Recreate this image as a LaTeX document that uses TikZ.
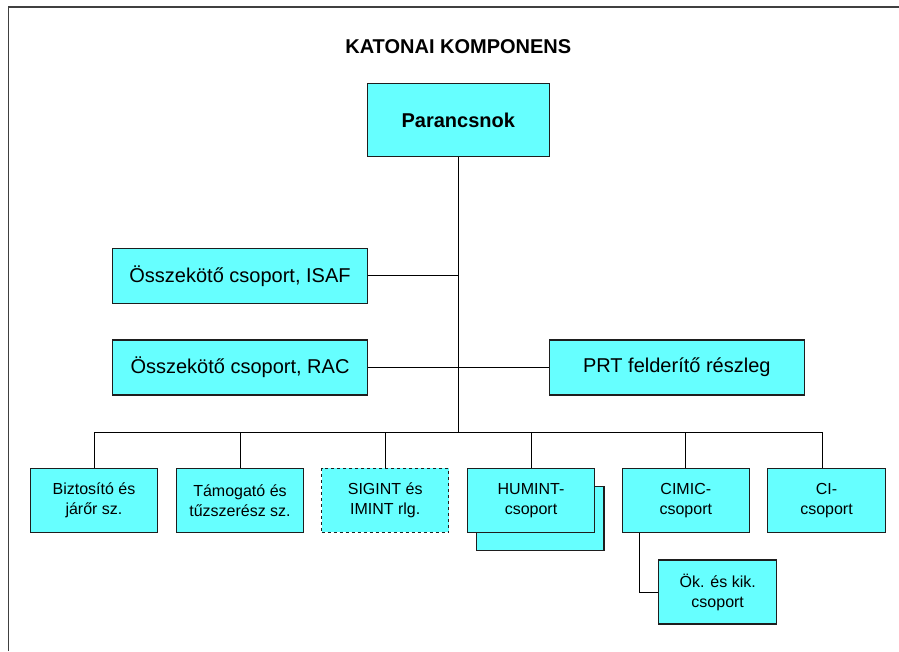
\documentclass[tikz,border=0pt]{standalone}
\usepackage{fontspec}
\setmainfont{Liberation Sans}
\definecolor{boxfill}{RGB}{102,255,255}
\definecolor{boxline}{RGB}{30,30,30}
\begin{document}
\begin{tikzpicture}[x=1pt,y=-1pt,
  box/.style={draw=boxline,fill=boxfill,line width=1.1pt,rectangle,inner sep=0pt,align=center},
  bigbox/.style={box,minimum width=255pt,minimum height=55pt,font=\fontsize{20}{24}\selectfont},
  smallbox/.style={box,minimum width=127.4pt,minimum height=64pt,font=\fontsize{16}{20}\selectfont},
  conn/.style={draw=black,line width=1pt}]
\useasboundingbox (0,0) rectangle (899,651);
% outer frame
\draw[draw=black!75,line width=1.5pt] (8.7,651) -- (8.7,7) -- (899,7);
% title
\node[font=\bfseries\fontsize{20}{24}\selectfont,anchor=base] (title) at (458.3,53.3) {KATONAI KOMPONENS};
% boxes
\node[box,minimum width=182pt,minimum height=73.4pt,font=\bfseries\fontsize{20}{24}\selectfont] (cmd) at (458.3,120) {Parancsnok};
\node[bigbox] (isaf) at (240,275.8) {Összekötő csoport, ISAF};
\node[bigbox] (rac) at (240,367.5) {Összekötő csoport, RAC};
\node[bigbox] (prt) at (676.8,367.5) {PRT felderítő részleg};
\node[smallbox] (b1) at (94,500.4) {Biztosító és\\járőr sz.};
\node[smallbox] (b2) at (240,500.4) {Támogató és\\tűzszerész sz.};
\node[smallbox,dashed] (sig) at (385.2,500.4) {SIGINT és\\IMINT rlg.};
\node[smallbox] (humback) at (540.3,518.7) {};
\node[smallbox] (hum) at (531,500.4) {HUMINT-\\csoport};
\node[smallbox] (cimic) at (685.8,500.4) {CIMIC-\\csoport};
\node[smallbox,minimum width=118.4pt] (ci) at (826.5,500.4) {CI-\\csoport};
\node[smallbox,minimum width=118pt] (ok) at (717.7,592) {Ök. és kik.\\csoport};
% connectors
\coordinate (bus) at (458.3,432.3);
\coordinate (busL) at (94,432.3);
\coordinate (busR) at (822.3,432.3);
\draw[conn] (cmd.south) -- (bus);
\draw[conn] (isaf.east) -- (isaf.east -| cmd.south);
\draw[conn] (rac.east) -- (prt.west);
\draw[conn] (busL) -- (busR);
\draw[conn] (busL) -- (b1.north);
\draw[conn] (b2.north |- bus) -- (b2.north);
\draw[conn] (sig.north |- bus) -- (sig.north);
\draw[conn] (hum.north |- bus) -- (hum.north);
\draw[conn] (cimic.north |- bus) -- (cimic.north);
\draw[conn] (busR) -- (busR |- ci.north);
\coordinate (cimicdrop) at ([xshift=18.4pt]cimic.south west);
\draw[conn] (cimicdrop) |- (ok.west);
\end{tikzpicture}
\end{document}
